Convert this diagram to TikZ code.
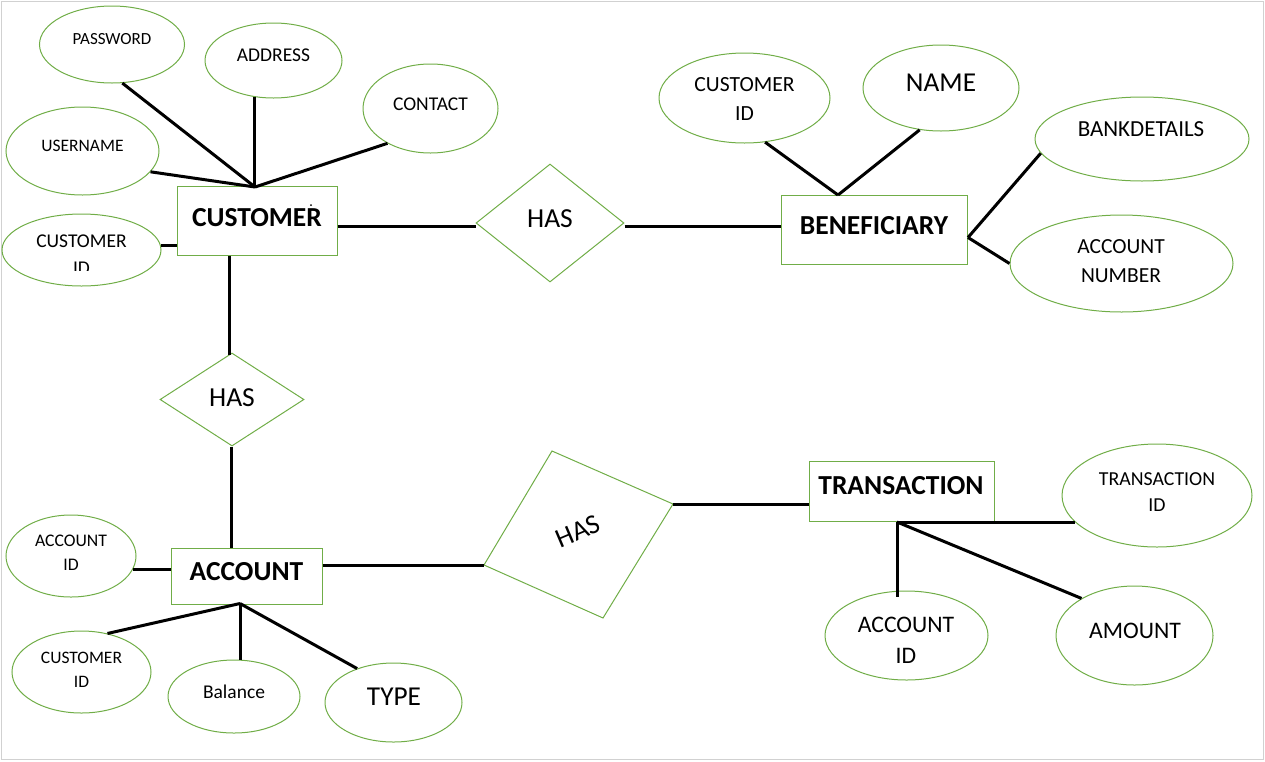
\documentclass[tikz,border=0pt]{standalone}
\usepackage{fontspec}
\setmainfont{Carlito}
\usetikzlibrary{shapes.geometric,calc}
\definecolor{egreen}{HTML}{70AD47}
\begin{document}
\begin{tikzpicture}[x=1pt,y=-1pt,
  ent/.style={draw=egreen,line width=1pt,rectangle,inner sep=0pt},
  attr/.style={draw=egreen,line width=1pt,ellipse,inner sep=0pt},
  rel/.style={draw=egreen,line width=1pt,diamond,inner sep=0pt},
  lnk/.style={line width=3pt,black},
  tx/.style 2 args={inner sep=0pt,align=center,font=\fontsize{#1}{#2}\selectfont},
  btx/.style={inner sep=0pt,align=center,font=\fontsize{27.5}{33}\selectfont\bfseries}]
\useasboundingbox (0,0) rectangle (1265,761);
\draw[black!18,line width=1.5pt] (1.5,1.5) rectangle (1263.5,759.5);

% entities
\node[ent,minimum width=160pt,minimum height=69pt] (cust) at (257,220.5) {};
\node[btx] (custt) at (257,217.5) {CUSTOMER};
\fill (311,205) circle (1pt);
\node[ent,minimum width=186pt,minimum height=69pt] (ben) at (874,229.5) {};
\node[btx] (bent) at (874,226) {BENEFICIARY};
\node[ent,minimum width=151pt,minimum height=56pt] (acc) at (246.5,576) {};
\node[btx] (acct) at (246.5,572) {ACCOUNT};
\node[ent,minimum width=185pt,minimum height=60pt] (tr) at (901.5,491) {};
\node[btx] (trt) at (901,486) {TRANSACTION};

% relationships
\node[rel,minimum width=148pt,minimum height=118pt] (has1) at (550,223) {};
\node[tx={27.5}{33}] (has1t) at (550,219) {HAS};
\node[rel,minimum width=144pt,minimum height=93pt] (has2) at (232,399.5) {};
\node[tx={27.5}{33}] (has2t) at (232,398) {HAS};
\coordinate (h3l) at (484,565);
\coordinate (h3t) at (552,451);
\coordinate (h3r) at (673,504);
\coordinate (h3b) at (603,618);
\draw[draw=egreen,line width=1pt] (h3l) -- (h3t) -- (h3r) -- (h3b) -- cycle;
\node[tx={27.5}{33},rotate=23] (has3t) at (578,531) {HAS};

% customer attributes
\node[attr,minimum width=145pt,minimum height=77pt] (pw) at (112,44.5) {};
\node[tx={17}{20}] (pwt) at (112,39) {PASSWORD};
\node[attr,minimum width=137pt,minimum height=75pt] (ad) at (273.5,60.5) {};
\node[tx={19.5}{24}] (adt) at (273.5,55) {ADDRESS};
\node[attr,minimum width=135pt,minimum height=89pt] (ct) at (430.5,108.5) {};
\node[tx={19.5}{24}] (ctt) at (430.5,104) {CONTACT};
\node[attr,minimum width=153pt,minimum height=88pt] (un) at (82.5,151) {};
\node[tx={17.5}{21}] (unt) at (82.5,146) {USERNAME};
\node[attr,minimum width=159pt,minimum height=72pt] (cid) at (81.5,250) {};
\begin{scope}
\clip (0,200) rectangle (175,270.5);
\node[tx={19.5}{26.6}] (cidt) at (81.5,254.8) {CUSTOMER\\ID};
\end{scope}

% beneficiary attributes
\node[attr,minimum width=171pt,minimum height=90pt] (bcid) at (744.5,98) {};
\node[tx={21.6}{29}] (bcidt) at (744.5,98.5) {CUSTOMER\\ID};
\node[attr,minimum width=156pt,minimum height=86pt] (nm) at (941,88) {};
\node[tx={27.3}{33}] (nmt) at (941,83) {NAME};
\node[attr,minimum width=214pt,minimum height=84pt] (bd) at (1142,139) {};
\node[tx={23}{28}] (bdt) at (1141,129) {BANKDETAILS};
\node[attr,minimum width=223pt,minimum height=97pt] (an) at (1121.5,263.5) {};
\node[tx={21.5}{29}] (ant) at (1121,261.5) {ACCOUNT\\NUMBER};

% account attributes
\node[attr,minimum width=130pt,minimum height=82pt] (aid) at (71,556) {};
\node[tx={17.7}{24}] (aidt) at (71,553) {ACCOUNT\\ID};
\node[attr,minimum width=139pt,minimum height=82pt] (acid) at (81.5,672) {};
\node[tx={17.5}{24}] (acidt) at (81.5,670) {CUSTOMER\\ID};
\node[attr,minimum width=132pt,minimum height=73pt] (bal) at (234,696.5) {};
\node[tx={19.5}{24}] (balt) at (234,692) {Balance};
\node[attr,minimum width=137pt,minimum height=79pt] (ty) at (393.5,702.5) {};
\node[tx={27.3}{33}] (tyt) at (394,697) {TYPE};

% transaction attributes
\node[attr,minimum width=190pt,minimum height=103pt] (tid) at (1157,495.5) {};
\node[tx={19.8}{26}] (tidt) at (1157,492) {TRANSACTION\\ID};
\node[attr,minimum width=163pt,minimum height=89pt] (taid) at (906.5,635.5) {};
\node[tx={23.7}{31}] (taidt) at (906,640.5) {ACCOUNT\\ID};
\node[attr,minimum width=157pt,minimum height=99pt] (am) at (1134.5,635.5) {};
\node[tx={23.7}{28}] (amt) at (1135,631) {AMOUNT};

% connectors: customer
\coordinate (cj) at (255,187);
\draw[lnk] (pw.-75) -- (cj);
\draw[lnk] (ad.-118) -- (ad.-118 |- cj);
\draw[lnk] (ct.-141) -- (cj);
\draw[lnk] (un.-17) -- (cj);
\draw[lnk] (cid.3) -- (cid.3 -| cust.west);
\draw[lnk] ([yshift=-5.5pt]cust.east) -- ([yshift=-5.5pt]cust.east -| has1.west);
\draw[lnk] ([yshift=-3pt]has1.east) -- ([yshift=-3pt]has1.east -| ben.west);
\draw[lnk] ([xshift=-3pt]has2.north |- cust.south) -- ([xshift=-3pt,yshift=-2pt]has2.north);
\draw[lnk] ([xshift=-1pt]has2.south) -- ([xshift=-1pt]has2.south |- acc.north);
\draw[lnk] ([yshift=11pt]acc.east) -- (h3l);
\draw[lnk] (h3r) -- (h3r -| tr.west);

% connectors: beneficiary
\coordinate (bj) at (838,195);
\draw[lnk] (bcid.-65) -- (bj);
\draw[lnk] (nm.-117) -- (bj);
\coordinate (bj2) at (968,237.5);
\draw[lnk] (bd.-172) -- (bj2);
\draw[lnk] (bj2) -- (an.west);

% connectors: account
\coordinate (aj) at (240,603.5);
\draw[lnk] (aid.-12) -- (aid.-12 -| acc.west);
\draw[lnk] (acid.56) -- (aj);
\draw[lnk] (aj) -- (aj |- bal.north);
\draw[lnk] (aj) -- (ty.137);

% connectors: transaction
\coordinate (tj) at (897,522);
\draw[lnk] (tj) -- (tj -| tid.-162);
\draw[lnk] (tj) -- ([yshift=-6pt]tj |- taid.north);
\draw[lnk] (tj) -- (am.145);
\end{tikzpicture}
\end{document}
